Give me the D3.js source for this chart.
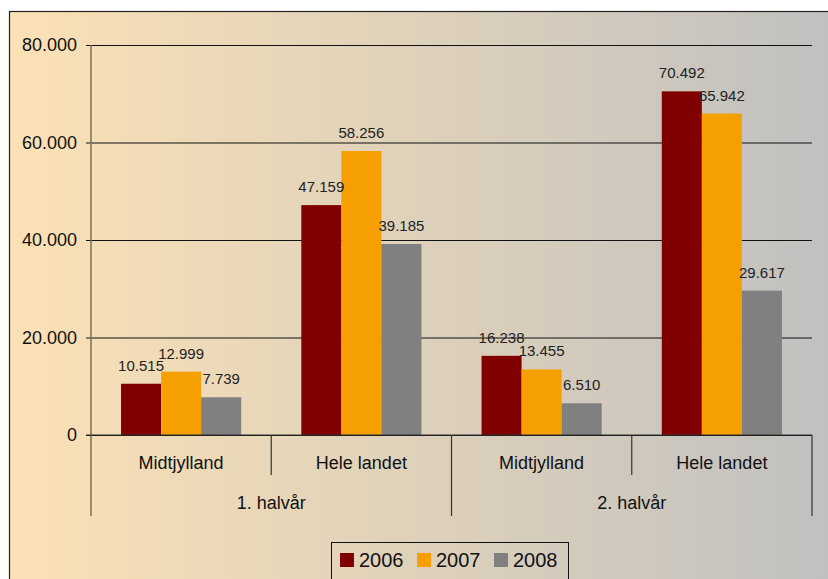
<!DOCTYPE html>
<html>
<head>
<meta charset="utf-8">
<script src="https://cdn.jsdelivr.net/npm/d3@7"></script>
<style>
  body { margin: 0; background: #fff; }
  svg { display: block; font-family: "Liberation Sans", Arial, sans-serif; }
</style>
</head>
<body>
<div id="chart"></div>
<script>
// data
var halves = ["1. halvår", "2. halvår"];
var regions = ["Midtjylland", "Hele landet"];
var years = ["2006", "2007", "2008"];
var yearColors = ["#800000", "#f5a000", "#808080"];
// one entry per group: 1. halvår Midtjylland, 1. halvår Hele landet, 2. halvår Midtjylland, 2. halvår Hele landet
var values2006 = [10515, 47159, 16238, 70492];
var values2007 = [12999, 58256, 13455, 65942];
var values2008 = [7739, 39185, 6510, 29617];
var yTicks = [0, 20000, 40000, 60000, 80000];

var width = 828, height = 579;
var plot = { left: 91, right: 812, top: 45, bottom: 435 };

var svg = d3.select("#chart").append("svg")
    .attr("width", width)
    .attr("height", height);

// background gradient
var grad = svg.append("defs").append("linearGradient")
    .attr("id", "bg")
    .attr("x1", "0%").attr("x2", "100%").attr("y1", "0%").attr("y2", "0%");
grad.append("stop").attr("offset", "0%").attr("stop-color", "#fbe1b5");
grad.append("stop").attr("offset", "100%").attr("stop-color", "#c0c0c0");

svg.append("rect")
    .attr("x", 9.5).attr("y", 11.5)
    .attr("width", 830).attr("height", 600)
    .attr("fill", "url(#bg)")
    .attr("stroke", "#222").attr("stroke-width", 1.2);

// build the groups
var groups = [];
halves.forEach(function(h, i){
    regions.forEach(function(r, j){
        var k = i*regions.length + j;
        groups.push({
            id: h + "|" + r, half: h, region: r,
            vals: [values2006[k], values2007[k], values2008[k]]
        });
    });
});

var x = d3.scaleBand()
    .domain(groups.map(function(d){ return d.id; }))
    .range([plot.left, plot.right])
    .padding(0);

var xInner = d3.scaleBand()
    .domain(years)
    .range([x.bandwidth()/6, x.bandwidth()*5/6])
    .padding(0);

var y = d3.scaleLinear()
    .domain([0, 80000])
    .range([plot.bottom, plot.top]);

var fmt = function(v){ return d3.format(",")(v).replace(/,/g, "."); };

// gridlines + y labels
var yAxis = d3.axisLeft(y)
    .tickValues(yTicks)
    .tickSize(5)
    .tickPadding(9)
    .tickFormat(function(d){ return d === 0 ? "0" : fmt(d); });

var yg = svg.append("g")
    .attr("transform", "translate(" + plot.left + ",0)")
    .call(yAxis);
yg.select(".domain").remove();
yg.selectAll(".tick line")
    .attr("x1", -5)
    .attr("x2", plot.right - plot.left)
    .attr("stroke", "#111");
yg.selectAll(".tick text")
    .attr("font-size", "18px")
    .attr("fill", "#111")
    .attr("font-family", "Liberation Sans, Arial, sans-serif");

// bars
var g = svg.selectAll(".grp")
    .data(groups)
    .enter()
    .append("g")
    .attr("class", "grp")
    .attr("transform", function(d){ return "translate(" + x(d.id) + ",0)"; });

g.selectAll("rect")
    .data(function(d){ return d.vals.map(function(v, i){ return { year: years[i], v: v, c: yearColors[i] }; }); })
    .enter()
    .append("rect")
    .attr("x", function(d){ return xInner(d.year); })
    .attr("width", xInner.bandwidth())
    .attr("y", function(d){ return y(d.v); })
    .attr("height", function(d){ return plot.bottom - y(d.v); })
    .attr("fill", function(d){ return d.c; });

g.selectAll("text.val")
    .data(function(d){ return d.vals.map(function(v, i){ return { year: years[i], v: v }; }); })
    .enter()
    .append("text")
    .attr("class", "val")
    .attr("x", function(d){ return xInner(d.year) + xInner.bandwidth()/2; })
    .attr("y", function(d){ return y(d.v) - 13; })
    .attr("text-anchor", "middle")
    .attr("font-size", "15px")
    .attr("fill", "#222")
    .text(function(d){ return fmt(d.v); });

// axes lines
svg.append("line")
    .attr("x1", plot.left).attr("x2", plot.left)
    .attr("y1", plot.top).attr("y2", 516)
    .attr("stroke", "#7d6d5a").attr("stroke-width", 1.5);

svg.append("line")
    .attr("x1", plot.left - 5).attr("x2", plot.right)
    .attr("y1", plot.bottom).attr("y2", plot.bottom)
    .attr("stroke", "#333").attr("stroke-width", 1.2);

// category dividers
groups.forEach(function(d, i){
    var xr = x(d.id) + x.bandwidth();
    var isHalfEnd = (i % regions.length) === regions.length - 1;
    svg.append("line")
        .attr("x1", xr).attr("x2", xr)
        .attr("y1", plot.bottom).attr("y2", isHalfEnd ? 516 : 475)
        .attr("stroke", "#333").attr("stroke-width", 1.2);
});

// region labels
svg.selectAll(".reg")
    .data(groups)
    .enter()
    .append("text")
    .attr("x", function(d){ return x(d.id) + x.bandwidth()/2; })
    .attr("y", 469)
    .attr("text-anchor", "middle")
    .attr("font-size", "18px")
    .attr("fill", "#111")
    .text(function(d){ return d.region; });

// half labels
svg.selectAll(".half")
    .data(halves)
    .enter()
    .append("text")
    .attr("x", function(h, i){
        var first = x(groups[i*regions.length].id);
        return first + x.bandwidth()*regions.length/2;
    })
    .attr("y", 509)
    .attr("text-anchor", "middle")
    .attr("font-size", "18px")
    .attr("fill", "#111")
    .text(function(h){ return h; });

// legend
var legend = svg.append("g").attr("transform", "translate(331,542)");
legend.append("rect")
    .attr("x", 0.5).attr("y", 0.5)
    .attr("width", 237).attr("height", 50)
    .attr("fill", "none")
    .attr("stroke", "#111");

var li = legend.selectAll(".li")
    .data(years)
    .enter()
    .append("g")
    .attr("transform", function(d, i){ return "translate(" + (9 + i*77) + ",0)"; });

li.append("rect")
    .attr("x", 0).attr("y", 11)
    .attr("width", 14).attr("height", 14)
    .attr("fill", function(d, i){ return yearColors[i]; });

li.append("text")
    .attr("x", 19).attr("y", 25)
    .attr("font-size", "20px")
    .attr("fill", "#111")
    .text(function(d){ return d; });
</script>
</body>
</html>
